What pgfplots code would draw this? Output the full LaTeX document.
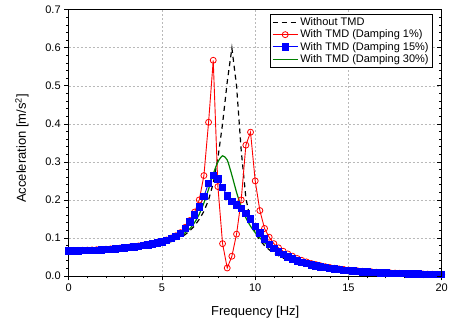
\documentclass[border=0pt]{standalone}
\usepackage{fontspec}
\setmainfont{Liberation Sans}
\usepackage{pgfplots}
\usepackage{pgfplotstable}
\pgfplotsset{compat=1.18}

% Frequency response, acceleration amplitude vs. excitation frequency
\pgfplotstableread{
f a
0 .0635
1 .0645
2 .0665
3 .0695
4 .0745
4.5 .0785
5 .0835
5.5 .0905
6 .1010
6.25 .1090
6.5 .1190
6.75 .1320
7 .1490
7.25 .1700
7.5 .2000
7.75 .2440
8 .3100
8.25 .4000
8.5 .5100
8.75 .5990
9 .5000
9.25 .3300
9.5 .2050
9.75 .1450
10 .1130
10.25 .0940
10.5 .0800
10.75 .0690
11 .0600
11.5 .0470
12 .0380
12.5 .0310
13 .0260
14 .0180
15 .0130
16 .0095
17 .0072
18 .0055
19 .0042
20 .0032
}\noTMD

\pgfplotstableread{
f a
0 .0672
0.25 .0672
0.5 .0674
0.75 .0677
1 .0680
1.25 .0685
1.5 .0690
1.75 .0697
2 .0704
2.25 .0713
2.5 .0722
2.75 .0733
3 .0745
3.25 .0759
3.5 .0774
3.75 .0791
4 .0809
4.25 .0829
4.5 .0852
4.75 .0878
5 .0907
5.25 .0947
5.5 .0997
5.75 .1057
6 .1140
6.25 .1280
6.5 .1460
6.75 .1680
7 .2000
7.25 .2640
7.5 .4040
7.75 .5670
8 .2350
8.25 .0850
8.5 .0210
8.75 .0520
9 .1100
9.25 .2000
9.5 .3440
9.75 .3780
10 .2500
10.25 .1720
10.5 .1250
10.75 .1020
11 .0850
11.25 .0740
11.5 .0650
11.75 .0580
12 .0520
12.25 .0460
12.5 .0410
12.75 .0370
13 .0330
13.25 .0300
13.5 .0270
13.75 .0245
14 .0223
14.25 .0203
14.5 .0186
14.75 .0171
15 .0157
15.25 .0145
15.5 .0134
15.75 .0124
16 .0115
16.25 .0107
16.5 .0099
16.75 .0092
17 .0086
17.25 .0080
17.5 .0075
17.75 .0070
18 .0066
18.25 .0062
18.5 .0058
18.75 .0055
19 .0052
19.25 .0049
19.5 .0046
19.75 .0044
20 .0042
}\dampA

\pgfplotstableread{
f a
0 .0660
0.25 .0660
0.5 .0662
0.75 .0665
1 .0668
1.25 .0673
1.5 .0678
1.75 .0685
2 .0692
2.25 .0701
2.5 .0710
2.75 .0721
3 .0733
3.25 .0747
3.5 .0762
3.75 .0779
4 .0797
4.25 .0817
4.5 .0840
4.75 .0866
5 .0895
5.25 .0935
5.5 .0985
5.75 .1045
6 .1125
6.25 .1245
6.5 .1420
6.75 .1600
7 .1820
7.25 .2090
7.5 .2440
7.75 .2640
8 .2550
8.25 .2330
8.5 .2100
8.75 .1960
9 .1870
9.25 .1780
9.5 .1650
9.75 .1500
10 .1300
10.25 .1130
10.5 .0970
10.75 .0830
11 .0720
11.25 .0630
11.5 .0560
11.75 .0500
12 .0450
12.25 .0400
12.5 .0360
12.75 .0325
13 .0290
13.25 .0265
13.5 .0240
13.75 .0220
14 .0200
14.25 .0180
14.5 .0166
14.75 .0153
15 .0141
15.25 .0130
15.5 .0120
15.75 .0111
16 .0103
16.25 .0096
16.5 .0089
16.75 .0083
17 .0077
17.25 .0072
17.5 .0067
17.75 .0063
18 .0059
18.25 .0055
18.5 .0052
18.75 .0049
19 .0046
19.25 .0043
19.5 .0041
19.75 .0039
20 .0037
}\dampB

\pgfplotstableread{
f a
0 .0652
0.5 .0654
1 .0660
1.5 .0670
2 .0684
2.5 .0702
3 .0725
3.5 .0753
4 .0788
4.5 .0831
5 .0885
5.5 .0955
5.75 .1000
6 .1055
6.25 .1140
6.5 .1245
6.75 .1405
7 .1625
7.25 .1920
7.5 .2280
7.75 .2680
8 .3000
8.25 .3160
8.5 .3050
8.75 .2650
9 .2200
9.25 .1820
9.5 .1530
9.75 .1310
10 .1140
10.25 .1000
10.5 .0880
10.75 .0770
11 .0670
11.25 .0590
11.5 .0520
11.75 .0460
12 .0410
12.5 .0330
13 .0270
13.5 .0220
14 .0182
14.5 .0152
15 .0128
15.5 .0109
16 .0093
16.5 .0080
17 .0069
17.5 .0060
18 .0053
18.5 .0047
19 .0041
19.5 .0037
20 .0033
}\dampC

\definecolor{dgreen}{RGB}{0,128,0}

\begin{document}
\begin{tikzpicture}
\begin{axis}[
  width=373pt, height=266.3pt, scale only axis,
  xmin=0, xmax=20, ymin=0, ymax=0.7,
  xtick={0,5,10,15,20},
  ytick={0,0.1,0.2,0.3,0.4,0.5,0.6,0.7},
  minor x tick num=4, minor y tick num=4,
  tick align=outside, xtick pos=bottom, ytick pos=left,
  major tick length=4.5pt, minor tick length=2.5pt,
  axis line style={line width=0.8pt},
  every tick/.style={black, line width=0.6pt},
  grid=major,
  grid style={gray!55, line width=0.5pt, dash pattern=on 2pt off 2pt},
  /pgf/number format/assume math mode=true,
  tick label style={font=\fontsize{11}{13}\selectfont},
  yticklabel style={/pgf/number format/.cd, fixed, fixed zerofill, precision=1},
  xlabel={Frequency [Hz]},
  ylabel={Acceleration [m/s\textsuperscript{2}]},
  label style={font=\fontsize{13}{15}\selectfont},
  xlabel style={at={(axis description cs:0.5,-0.1465)}, anchor=base},
  ylabel style={at={(axis description cs:-0.1145,0.479)}, anchor=base},
  legend style={at={(0.975,0.984)}, anchor=north east, draw=black,
    font=\fontsize{11}{13}\selectfont,
    inner sep=1.5pt, row sep=-1.2pt, cells={anchor=west}},
  legend image code/.code={\draw[mark repeat=2,mark phase=2,#1]
    plot coordinates {(0pt,0pt) (12.5pt,0pt) (25pt,0pt)};},
]
\addplot[black, line width=1.2pt, dash pattern=on 5pt off 4pt] table {\noTMD};
\addlegendentry{Without TMD}
\addplot[red, line width=0.9pt, mark=o, mark size=3pt,
  mark options={solid, fill=white, line width=0.8pt}] table {\dampA};
\addlegendentry{With TMD (Damping 1\%)}
\addplot[blue, line width=0.9pt, mark=square*, mark size=3.2pt,
  mark options={solid}] table {\dampB};
\addlegendentry{With TMD (Damping 15\%)}
\addplot[color=dgreen, line width=1.2pt, smooth, tension=0.4] table {\dampC};
\addlegendentry{With TMD (Damping 30\%)}
\end{axis}
% inward ticks on the right-hand frame
\begin{axis}[
  width=373pt, height=266.3pt, scale only axis,
  xmin=0, xmax=20, ymin=0, ymax=0.7,
  axis x line=none, axis y line*=right,
  ytick={0,0.1,0.2,0.3,0.4,0.5,0.6,0.7}, yticklabels={},
  minor y tick num=4, tick align=inside,
  major tick length=4.5pt, minor tick length=2.5pt,
  axis line style={line width=0.8pt, -},
  every tick/.style={black, line width=0.6pt},
]
\end{axis}
\pgfresetboundingbox
\path ([shift={(-68.7pt,-48pt)}]current axis.south west)
  rectangle ([shift={(8.3pt,9.7pt)}]current axis.north east);
\end{tikzpicture}
\end{document}
